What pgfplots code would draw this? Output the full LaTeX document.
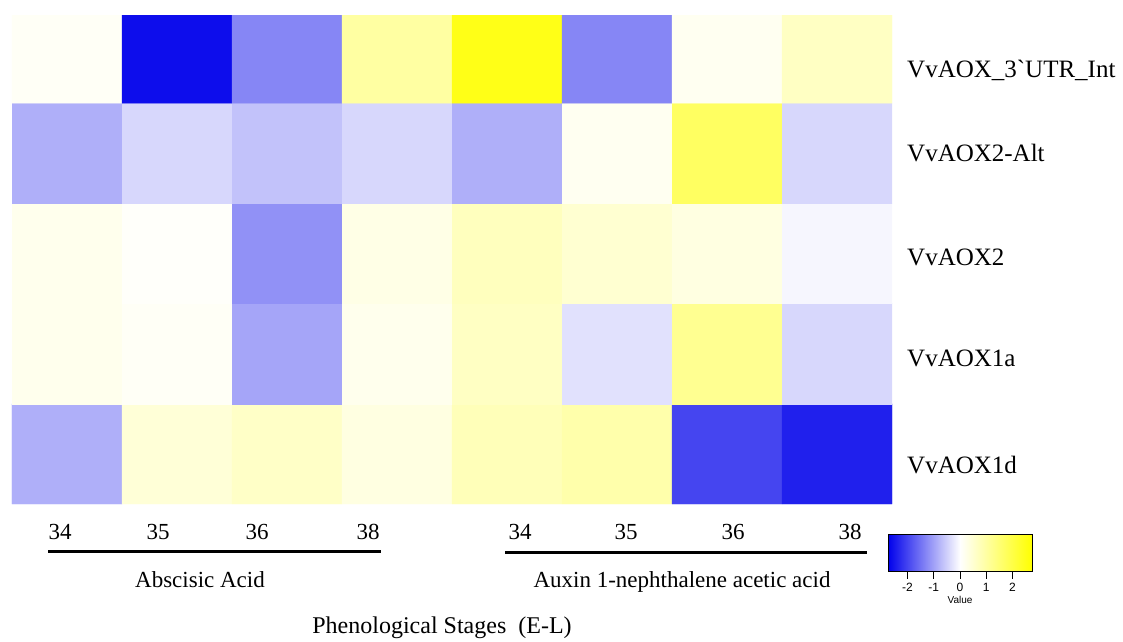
\documentclass[border=0pt]{standalone}
\usepackage{fontspec}
\setmainfont{Liberation Serif}
\newfontfamily\sansf{Liberation Sans}
\usepackage{pgfplots}
\pgfplotsset{compat=1.18}
\usepackage{pgfplotstable}

\pgfplotstableread{
x y c
0 0 -0.86
1 0 0.43
2 0 0.60
3 0 0.32
4 0 0.75
5 0 0.90
6 0 -2.00
7 0 -2.40
0 1 0.20
1 1 0.10
2 1 -0.97
3 1 0.20
4 1 0.65
5 1 -0.32
6 1 1.18
7 1 -0.43
0 2 0.20
1 2 0.05
2 2 -1.18
3 2 0.27
4 2 0.70
5 2 0.50
6 2 0.32
7 2 -0.10
0 3 -0.86
1 3 -0.43
2 3 -0.65
3 3 -0.43
4 3 -0.86
5 3 0.15
6 3 1.70
7 3 -0.43
0 4 0.10
1 4 -2.60
2 4 -1.30
3 4 1.00
4 4 2.50
5 4 -1.30
6 4 0.15
7 4 0.65
}\heatdata

\begin{document}
\begin{tikzpicture}
\useasboundingbox (0,0) rectangle (1123pt,-641pt);
\begin{axis}[
  at={(12pt,-15pt)}, anchor=north west,
  scale only axis, width=880pt, height=489pt,
  xmin=-0.5, xmax=7.5, ymin=-0.5, ymax=4.38,
  enlargelimits=false,
  axis line style={draw=none},
  xtick=\empty, ytick=\empty,
  colormap={bwy}{rgb255=(0,0,235) rgb255=(255,255,255) rgb255=(255,255,0)},
  point meta min=-2.74, point meta max=2.74,
  colorbar horizontal,
  colorbar/width=37pt,
  colorbar style={
    at={(parent axis.south east)}, anchor=north west,
    xshift=-4pt, yshift=-22pt,
    scale only axis, width=144pt, height=37pt,
    xtick={-2,-1,0,1,2},
    xtick pos=lower,
    xticklabel pos=lower,
    xtick align=outside,
    major tick length=7pt,
    xtick style={draw=black, line width=0.8pt},
    axis line style={draw=black, line width=0.6pt},
    /pgf/number format/assume math mode=true,
    xticklabel style={font=\sansf\fontsize{12}{12}\selectfont, yshift=-1pt},
    xlabel={Value},
    xlabel style={font=\sansf\fontsize{10}{10}\selectfont, yshift=2pt},
  },
]
\addplot[matrix plot*, mesh/cols=8, point meta=explicit] table[x=x, y=y, meta=c] {\heatdata};
\end{axis}

% row labels
\begin{scope}[every node/.style={anchor=west, font=\fontsize{25}{25}\selectfont, inner sep=0pt}]
\node at (907pt,-70pt) {VvAOX\_3\textasciigrave UTR\_Int};
\node at (907pt,-153pt) {VvAOX2-Alt};
\node at (907pt,-257pt) {VvAOX2};
\node at (907pt,-358pt) {VvAOX1a};
\node at (907pt,-465pt) {VvAOX1d};
\end{scope}

% bottom labels
\begin{scope}[every node/.style={font=\fontsize{23}{23}\selectfont, inner sep=0pt}]
\node at (60pt,-532pt) {34};
\node at (158pt,-532pt) {35};
\node at (257pt,-532pt) {36};
\node at (368pt,-532pt) {38};
\node at (520pt,-532pt) {34};
\node at (626pt,-532pt) {35};
\node at (733pt,-532pt) {36};
\node at (850pt,-532pt) {38};
\node at (200pt,-580pt) {Abscisic Acid};
\node at (682pt,-582pt) {Auxin 1-nephthalene acetic acid};
\node[font=\fontsize{24}{24}\selectfont] at (442pt,-628pt) {Phenological Stages\ \ (E-L)};
\end{scope}
\draw[line width=3pt] (48pt,-551pt) -- (381pt,-551pt);
\draw[line width=3pt] (505pt,-552pt) -- (867pt,-552pt);
\end{tikzpicture}
\end{document}
